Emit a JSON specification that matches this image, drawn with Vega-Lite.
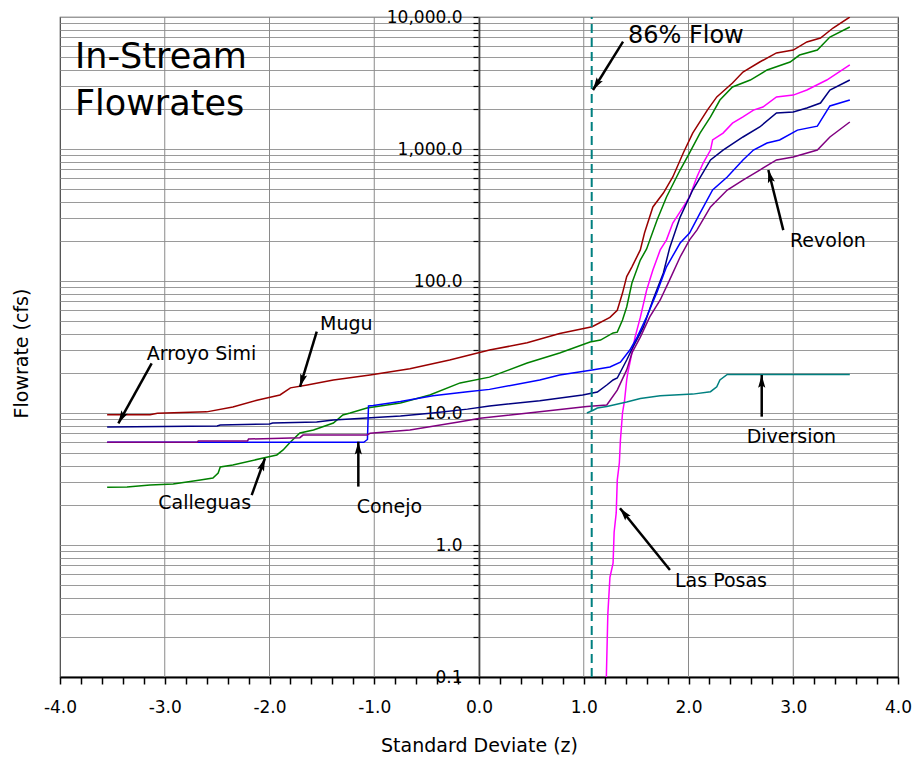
{
  "$schema": "https://vega.github.io/schema/vega-lite/v6.json",
  "width": 838,
  "height": 660,
  "autosize": {"type": "none"},
  "padding": {"left": 60, "top": 17, "right": 19, "bottom": 80},
  "background": "white",
  "config": {"view": {"stroke": "#444444", "strokeWidth": 1.2}, "font": "DejaVu Sans"},
  "datasets": {
    "curves": [
      {"s": "Mugu", "z": -3.55, "q": 9.7}, {"s": "Mugu", "z": -3.14, "q": 9.7}, {"s": "Mugu", "z": -3.07, "q": 9.95}, {"s": "Mugu", "z": -2.6, "q": 10.2}, {"s": "Mugu", "z": -2.35, "q": 11.1}, {"s": "Mugu", "z": -2.12, "q": 12.5}, {"s": "Mugu", "z": -1.9, "q": 13.7}, {"s": "Mugu", "z": -1.8, "q": 15.5}, {"s": "Mugu", "z": -1.64, "q": 16.3}, {"s": "Mugu", "z": -1.39, "q": 17.8}, {"s": "Mugu", "z": -1.04, "q": 19.4}, {"s": "Mugu", "z": -0.66, "q": 21.6}, {"s": "Mugu", "z": -0.28, "q": 25.2}, {"s": "Mugu", "z": 0.1, "q": 30}, {"s": "Mugu", "z": 0.46, "q": 34}, {"s": "Mugu", "z": 0.77, "q": 40}, {"s": "Mugu", "z": 1.08, "q": 45}, {"s": "Mugu", "z": 1.25, "q": 53}, {"s": "Mugu", "z": 1.32, "q": 60}, {"s": "Mugu", "z": 1.37, "q": 81}, {"s": "Mugu", "z": 1.41, "q": 108}, {"s": "Mugu", "z": 1.46, "q": 128}, {"s": "Mugu", "z": 1.54, "q": 172}, {"s": "Mugu", "z": 1.58, "q": 231}, {"s": "Mugu", "z": 1.66, "q": 364}, {"s": "Mugu", "z": 1.76, "q": 464}, {"s": "Mugu", "z": 1.85, "q": 614}, {"s": "Mugu", "z": 1.95, "q": 933}, {"s": "Mugu", "z": 2.04, "q": 1320}, {"s": "Mugu", "z": 2.18, "q": 1970}, {"s": "Mugu", "z": 2.27, "q": 2480}, {"s": "Mugu", "z": 2.42, "q": 3160}, {"s": "Mugu", "z": 2.52, "q": 3830}, {"s": "Mugu", "z": 2.68, "q": 4560}, {"s": "Mugu", "z": 2.84, "q": 5340}, {"s": "Mugu", "z": 3.0, "q": 5620}, {"s": "Mugu", "z": 3.13, "q": 6470}, {"s": "Mugu", "z": 3.26, "q": 6930}, {"s": "Mugu", "z": 3.38, "q": 8250}, {"s": "Mugu", "z": 3.54, "q": 10000},
      {"s": "Calleguas", "z": -3.55, "q": 2.74}, {"s": "Calleguas", "z": -3.36, "q": 2.75}, {"s": "Calleguas", "z": -3.14, "q": 2.85}, {"s": "Calleguas", "z": -2.92, "q": 2.9}, {"s": "Calleguas", "z": -2.66, "q": 3.11}, {"s": "Calleguas", "z": -2.54, "q": 3.22}, {"s": "Calleguas", "z": -2.49, "q": 3.51}, {"s": "Calleguas", "z": -2.47, "q": 3.9}, {"s": "Calleguas", "z": -2.35, "q": 4.04}, {"s": "Calleguas", "z": -2.06, "q": 4.56}, {"s": "Calleguas", "z": -1.93, "q": 4.81}, {"s": "Calleguas", "z": -1.87, "q": 5.25}, {"s": "Calleguas", "z": -1.8, "q": 6.03}, {"s": "Calleguas", "z": -1.71, "q": 7.05}, {"s": "Calleguas", "z": -1.58, "q": 7.43}, {"s": "Calleguas", "z": -1.39, "q": 8.4}, {"s": "Calleguas", "z": -1.3, "q": 9.66}, {"s": "Calleguas", "z": -1.23, "q": 10}, {"s": "Calleguas", "z": -1.07, "q": 10.9}, {"s": "Calleguas", "z": -0.75, "q": 11.9}, {"s": "Calleguas", "z": -0.47, "q": 13.7}, {"s": "Calleguas", "z": -0.18, "q": 16.9}, {"s": "Calleguas", "z": 0.1, "q": 18.7}, {"s": "Calleguas", "z": 0.46, "q": 23.9}, {"s": "Calleguas", "z": 0.77, "q": 28.5}, {"s": "Calleguas", "z": 1.06, "q": 34.5}, {"s": "Calleguas", "z": 1.16, "q": 35.7}, {"s": "Calleguas", "z": 1.28, "q": 40.4}, {"s": "Calleguas", "z": 1.32, "q": 41}, {"s": "Calleguas", "z": 1.37, "q": 50.7}, {"s": "Calleguas", "z": 1.41, "q": 63.5}, {"s": "Calleguas", "z": 1.46, "q": 96.6}, {"s": "Calleguas", "z": 1.54, "q": 144}, {"s": "Calleguas", "z": 1.6, "q": 175}, {"s": "Calleguas", "z": 1.7, "q": 290}, {"s": "Calleguas", "z": 1.79, "q": 433}, {"s": "Calleguas", "z": 1.92, "q": 693}, {"s": "Calleguas", "z": 2.01, "q": 933}, {"s": "Calleguas", "z": 2.11, "q": 1320}, {"s": "Calleguas", "z": 2.21, "q": 1750}, {"s": "Calleguas", "z": 2.3, "q": 2350}, {"s": "Calleguas", "z": 2.42, "q": 2950}, {"s": "Calleguas", "z": 2.59, "q": 3330}, {"s": "Calleguas", "z": 2.75, "q": 3970}, {"s": "Calleguas", "z": 2.97, "q": 4560}, {"s": "Calleguas", "z": 3.06, "q": 5150}, {"s": "Calleguas", "z": 3.23, "q": 5620}, {"s": "Calleguas", "z": 3.35, "q": 7050}, {"s": "Calleguas", "z": 3.54, "q": 8400},
      {"s": "Las Posas", "z": 1.215, "q": 0.095}, {"s": "Las Posas", "z": 1.23, "q": 0.3}, {"s": "Las Posas", "z": 1.25, "q": 0.57}, {"s": "Las Posas", "z": 1.28, "q": 0.73}, {"s": "Las Posas", "z": 1.29, "q": 1.25}, {"s": "Las Posas", "z": 1.31, "q": 1.75}, {"s": "Las Posas", "z": 1.32, "q": 3.1}, {"s": "Las Posas", "z": 1.34, "q": 4.2}, {"s": "Las Posas", "z": 1.35, "q": 6.2}, {"s": "Las Posas", "z": 1.37, "q": 10}, {"s": "Las Posas", "z": 1.39, "q": 12.5}, {"s": "Las Posas", "z": 1.41, "q": 17.8}, {"s": "Las Posas", "z": 1.42, "q": 20}, {"s": "Las Posas", "z": 1.46, "q": 28.5}, {"s": "Las Posas", "z": 1.49, "q": 37.6}, {"s": "Las Posas", "z": 1.54, "q": 53}, {"s": "Las Posas", "z": 1.6, "q": 85}, {"s": "Las Posas", "z": 1.66, "q": 121}, {"s": "Las Posas", "z": 1.73, "q": 172}, {"s": "Las Posas", "z": 1.79, "q": 205}, {"s": "Las Posas", "z": 1.85, "q": 275}, {"s": "Las Posas", "z": 1.95, "q": 364}, {"s": "Las Posas", "z": 2.01, "q": 433}, {"s": "Las Posas", "z": 2.08, "q": 614}, {"s": "Las Posas", "z": 2.14, "q": 783}, {"s": "Las Posas", "z": 2.21, "q": 982}, {"s": "Las Posas", "z": 2.23, "q": 1170}, {"s": "Las Posas", "z": 2.33, "q": 1320}, {"s": "Las Posas", "z": 2.42, "q": 1570}, {"s": "Las Posas", "z": 2.52, "q": 1750}, {"s": "Las Posas", "z": 2.62, "q": 1970}, {"s": "Las Posas", "z": 2.71, "q": 2080}, {"s": "Las Posas", "z": 2.84, "q": 2480}, {"s": "Las Posas", "z": 3.0, "q": 2560}, {"s": "Las Posas", "z": 3.13, "q": 2800}, {"s": "Las Posas", "z": 3.32, "q": 3330}, {"s": "Las Posas", "z": 3.54, "q": 4330},
      {"s": "Arroyo Simi", "z": -3.55, "q": 7.83}, {"s": "Arroyo Simi", "z": -2.5, "q": 7.97}, {"s": "Arroyo Simi", "z": -2.47, "q": 8.11}, {"s": "Arroyo Simi", "z": -2.0, "q": 8.26}, {"s": "Arroyo Simi", "z": -1.97, "q": 8.4}, {"s": "Arroyo Simi", "z": -1.55, "q": 8.55}, {"s": "Arroyo Simi", "z": -1.39, "q": 8.85}, {"s": "Arroyo Simi", "z": -1.07, "q": 9.17}, {"s": "Arroyo Simi", "z": -0.75, "q": 9.49}, {"s": "Arroyo Simi", "z": -0.44, "q": 10}, {"s": "Arroyo Simi", "z": -0.11, "q": 10.7}, {"s": "Arroyo Simi", "z": 0.1, "q": 11.3}, {"s": "Arroyo Simi", "z": 0.58, "q": 12.4}, {"s": "Arroyo Simi", "z": 0.99, "q": 13.7}, {"s": "Arroyo Simi", "z": 1.13, "q": 14.4}, {"s": "Arroyo Simi", "z": 1.22, "q": 16.3}, {"s": "Arroyo Simi", "z": 1.28, "q": 17.8}, {"s": "Arroyo Simi", "z": 1.32, "q": 18.4}, {"s": "Arroyo Simi", "z": 1.41, "q": 25.2}, {"s": "Arroyo Simi", "z": 1.47, "q": 31.6}, {"s": "Arroyo Simi", "z": 1.57, "q": 44.9}, {"s": "Arroyo Simi", "z": 1.66, "q": 71.8}, {"s": "Arroyo Simi", "z": 1.76, "q": 115}, {"s": "Arroyo Simi", "z": 1.82, "q": 178}, {"s": "Arroyo Simi", "z": 1.92, "q": 305}, {"s": "Arroyo Simi", "z": 2.04, "q": 489}, {"s": "Arroyo Simi", "z": 2.21, "q": 826}, {"s": "Arroyo Simi", "z": 2.33, "q": 982}, {"s": "Arroyo Simi", "z": 2.52, "q": 1233}, {"s": "Arroyo Simi", "z": 2.68, "q": 1468}, {"s": "Arroyo Simi", "z": 2.84, "q": 1874}, {"s": "Arroyo Simi", "z": 3.0, "q": 1906}, {"s": "Arroyo Simi", "z": 3.13, "q": 2045}, {"s": "Arroyo Simi", "z": 3.26, "q": 2230}, {"s": "Arroyo Simi", "z": 3.35, "q": 2800}, {"s": "Arroyo Simi", "z": 3.54, "q": 3333},
      {"s": "Conejo", "z": -3.55, "q": 6.0}, {"s": "Conejo", "z": -1.1, "q": 6.0}, {"s": "Conejo", "z": -1.065, "q": 6.3}, {"s": "Conejo", "z": -1.055, "q": 11.3}, {"s": "Conejo", "z": -1.01, "q": 11.4}, {"s": "Conejo", "z": -0.75, "q": 12.2}, {"s": "Conejo", "z": -0.44, "q": 13.5}, {"s": "Conejo", "z": -0.11, "q": 14.5}, {"s": "Conejo", "z": 0.1, "q": 15.1}, {"s": "Conejo", "z": 0.58, "q": 17.8}, {"s": "Conejo", "z": 0.77, "q": 19.4}, {"s": "Conejo", "z": 1.08, "q": 21.2}, {"s": "Conejo", "z": 1.25, "q": 22.3}, {"s": "Conejo", "z": 1.35, "q": 24.3}, {"s": "Conejo", "z": 1.44, "q": 30}, {"s": "Conejo", "z": 1.51, "q": 37.6}, {"s": "Conejo", "z": 1.6, "q": 53.4}, {"s": "Conejo", "z": 1.7, "q": 82.6}, {"s": "Conejo", "z": 1.79, "q": 128}, {"s": "Conejo", "z": 1.92, "q": 194}, {"s": "Conejo", "z": 2.01, "q": 231}, {"s": "Conejo", "z": 2.11, "q": 327}, {"s": "Conejo", "z": 2.23, "q": 489}, {"s": "Conejo", "z": 2.37, "q": 614}, {"s": "Conejo", "z": 2.52, "q": 826}, {"s": "Conejo", "z": 2.62, "q": 982}, {"s": "Conejo", "z": 2.75, "q": 1110}, {"s": "Conejo", "z": 2.87, "q": 1170}, {"s": "Conejo", "z": 3.04, "q": 1390}, {"s": "Conejo", "z": 3.23, "q": 1490}, {"s": "Conejo", "z": 3.35, "q": 2120}, {"s": "Conejo", "z": 3.54, "q": 2350},
      {"s": "Revolon", "z": -3.55, "q": 6.0}, {"s": "Revolon", "z": -2.69, "q": 6.0}, {"s": "Revolon", "z": -2.68, "q": 6.14}, {"s": "Revolon", "z": -2.21, "q": 6.14}, {"s": "Revolon", "z": -2.2, "q": 6.35}, {"s": "Revolon", "z": -1.71, "q": 6.5}, {"s": "Revolon", "z": -1.68, "q": 6.8}, {"s": "Revolon", "z": -1.07, "q": 6.8}, {"s": "Revolon", "z": -1.04, "q": 7.02}, {"s": "Revolon", "z": -0.66, "q": 7.43}, {"s": "Revolon", "z": -0.18, "q": 8.59}, {"s": "Revolon", "z": 0.01, "q": 9.12}, {"s": "Revolon", "z": 0.58, "q": 10.2}, {"s": "Revolon", "z": 1.03, "q": 11.2}, {"s": "Revolon", "z": 1.22, "q": 11.5}, {"s": "Revolon", "z": 1.32, "q": 14.9}, {"s": "Revolon", "z": 1.41, "q": 21.2}, {"s": "Revolon", "z": 1.46, "q": 28.5}, {"s": "Revolon", "z": 1.54, "q": 37.6}, {"s": "Revolon", "z": 1.63, "q": 53.4}, {"s": "Revolon", "z": 1.73, "q": 71.8}, {"s": "Revolon", "z": 1.82, "q": 102}, {"s": "Revolon", "z": 1.92, "q": 152}, {"s": "Revolon", "z": 2.01, "q": 205}, {"s": "Revolon", "z": 2.08, "q": 243}, {"s": "Revolon", "z": 2.21, "q": 364}, {"s": "Revolon", "z": 2.37, "q": 489}, {"s": "Revolon", "z": 2.52, "q": 582}, {"s": "Revolon", "z": 2.68, "q": 693}, {"s": "Revolon", "z": 2.84, "q": 826}, {"s": "Revolon", "z": 3.0, "q": 869}, {"s": "Revolon", "z": 3.23, "q": 982}, {"s": "Revolon", "z": 3.35, "q": 1233}, {"s": "Revolon", "z": 3.54, "q": 1602},
      {"s": "Diversion", "z": 1.03, "q": 10.0}, {"s": "Diversion", "z": 1.09, "q": 10.5}, {"s": "Diversion", "z": 1.13, "q": 10.9}, {"s": "Diversion", "z": 1.22, "q": 11.2}, {"s": "Diversion", "z": 1.41, "q": 12.1}, {"s": "Diversion", "z": 1.54, "q": 12.9}, {"s": "Diversion", "z": 1.73, "q": 13.5}, {"s": "Diversion", "z": 2.04, "q": 13.9}, {"s": "Diversion", "z": 2.21, "q": 14.5}, {"s": "Diversion", "z": 2.27, "q": 15.8}, {"s": "Diversion", "z": 2.3, "q": 17.8}, {"s": "Diversion", "z": 2.37, "q": 19.6}, {"s": "Diversion", "z": 3.54, "q": 19.6}
    ],
    "zgrid": [
      {"z": -3, "q": 0.1}, {"z": -3, "q": 10000}, {"z": -2, "q": 0.1}, {"z": -2, "q": 10000}, {"z": -1, "q": 0.1}, {"z": -1, "q": 10000},
      {"z": 0, "q": 0.1}, {"z": 0, "q": 10000}, {"z": 1, "q": 0.1}, {"z": 1, "q": 10000}, {"z": 2, "q": 0.1}, {"z": 2, "q": 10000}, {"z": 3, "q": 0.1}, {"z": 3, "q": 10000}
    ],
    "flowline": [{"z": 1.076, "q": 0.1}, {"z": 1.076, "q": 10000}],
    "arrows": [
      {"name": "86% Flow", "z": 1.088, "q": 2800, "zt": 1.375, "qt": 6500, "heading": 212},
      {"name": "Mugu", "z": -1.709, "q": 15.8, "zt": -1.549, "qt": 41.3, "heading": 197},
      {"name": "Arroyo Simi", "z": -3.443, "q": 8.36, "zt": -3.125, "qt": 23.8, "heading": 209},
      {"name": "Calleguas", "z": -2.043, "q": 4.54, "zt": -2.17, "qt": 2.39, "heading": 20},
      {"name": "Conejo", "z": -1.152, "q": 6.06, "zt": -1.152, "qt": 2.77, "heading": 0},
      {"name": "Diversion", "z": 2.699, "q": 19.4, "zt": 2.699, "qt": 9.38, "heading": 0},
      {"name": "Las Posas", "z": 1.346, "q": 1.9, "zt": 1.823, "qt": 0.647, "heading": 321},
      {"name": "Revolon", "z": 2.762, "q": 693, "zt": 2.905, "qt": 243, "heading": 346}
    ],
    "labels": [
      {"label": "Mugu", "z": -1.518, "q": 42.6},
      {"label": "Arroyo Simi", "z": -3.172, "q": 25.2},
      {"label": "Calleguas", "z": -3.062, "q": 1.86},
      {"label": "Conejo", "z": -1.168, "q": 1.74},
      {"label": "Diversion", "z": 2.555, "q": 5.96},
      {"label": "Las Posas", "z": 1.871, "q": 0.483},
      {"label": "Revolon", "z": 2.969, "q": 182}
    ],
    "flowlabel": [{"label": "86% Flow", "z": 1.422, "q": 6320}],
    "heading": [
      {"label": "In-Stream", "z": -3.857, "q": 4085},
      {"label": "Flowrates", "z": -3.857, "q": 1811}
    ]
  },
  "encoding": {
    "x": {
      "field": "z", "type": "quantitative",
      "scale": {"domain": [-4, 4], "nice": false, "zero": false},
      "axis": {
        "values": [-4, -3.8, -3.6, -3.4, -3.2, -3, -2.8, -2.6, -2.4, -2.2, -2, -1.8, -1.6, -1.4, -1.2, -1, -0.8, -0.6, -0.4, -0.2, 0, 0.2, 0.4, 0.6, 0.8, 1, 1.2, 1.4, 1.6, 1.8, 2, 2.2, 2.4, 2.6, 2.8, 3, 3.2, 3.4, 3.6, 3.8, 4],
        "tickCount": 200,
        "labelExpr": "abs(datum.value - round(datum.value)) < 0.001 ? replace(format(datum.value, '.1f'), '\u2212', '-') : ''",
        "grid": false,
        "ticks": true,
        "tickSize": 7,
        "tickColor": "black",
        "tickWidth": 1.5,
        "labelFont": "DejaVu Sans",
        "labelFontSize": 17,
        "labelColor": "black",
        "labelPadding": 15,
        "labelFlush": false,
        "labelOverlap": false,
        "domainColor": "black",
        "domainWidth": 2,
        "title": "Standard Deviate (z)",
        "titleFont": "DejaVu Sans",
        "titleFontSize": 19,
        "titleFontWeight": "normal",
        "titleColor": "black",
        "titleY": 68,
        "titleBaseline": "middle"
      }
    },
    "y": {
      "field": "q", "type": "quantitative",
      "scale": {"type": "log", "domain": [0.1, 10000], "nice": false},
      "axis": {
        "values": [0.1, 0.2, 0.3, 0.4, 0.5, 0.6, 0.7, 0.8, 0.9, 1, 2, 3, 4, 5, 6, 7, 8, 9, 10, 20, 30, 40, 50, 60, 70, 80, 90, 100, 200, 300, 400, 500, 600, 700, 800, 900, 1000, 2000, 3000, 4000, 5000, 6000, 7000, 8000, 9000, 10000],
        "tickCount": 200,
        "offset": -419,
        "labelExpr": "indexof([0.1, 1, 10, 100, 1000, 10000], datum.value) >= 0 ? format(datum.value, ',.1f') : ''",
        "ticks": true,
        "tickSize": 6,
        "tickColor": "black",
        "tickWidth": 1.2,
        "domainColor": "black",
        "domainWidth": 1.5,
        "grid": true,
        "gridColor": "#9a9a9a",
        "gridWidth": 1,
        "labelFont": "DejaVu Sans",
        "labelFontSize": 17,
        "labelColor": "black",
        "labelPadding": 11,
        "labelOverlap": false,
        "labelFlush": false,
        "title": "Flowrate (cfs)",
        "titleFont": "DejaVu Sans",
        "titleFontSize": 19,
        "titleFontWeight": "normal",
        "titleColor": "black",
        "titleX": -458,
        "titleY": 336,
        "titleAngle": 270,
        "titleAlign": "center",
        "titleBaseline": "middle"
      }
    }
  },
  "layer": [
    {
      "data": {"name": "zgrid"},
      "mark": {"type": "line", "color": "#8a8a8a", "strokeWidth": 1},
      "encoding": {"detail": {"field": "z", "type": "nominal"}, "order": {"field": "q", "type": "quantitative"}}
    },
    {
      "data": {"name": "curves"},
      "mark": {"type": "line", "strokeWidth": 1.5, "clip": true},
      "encoding": {
        "color": {
          "field": "s", "type": "nominal",
          "scale": {
            "domain": ["Mugu", "Calleguas", "Las Posas", "Arroyo Simi", "Conejo", "Revolon", "Diversion"],
            "range": ["#990000", "#008000", "#ff00ff", "#000080", "#0000ff", "#800080", "#008080"]
          },
          "legend": null
        }
      }
    },
    {
      "data": {"name": "flowline"},
      "mark": {"type": "line", "color": "#008080", "strokeWidth": 2, "strokeDash": [9, 5]},
      "encoding": {"order": {"field": "q", "type": "quantitative"}}
    },
    {
      "data": {"name": "arrows"},
      "mark": {"type": "rule", "color": "black", "strokeWidth": 2.5},
      "encoding": {
        "x2": {"field": "zt"},
        "y2": {"field": "qt"}
      }
    },
    {
      "data": {"name": "arrows"},
      "mark": {"type": "point", "shape": "M0,0L0.9,3.2L0,2.6L-0.9,3.2Z", "filled": true, "color": "black", "opacity": 1, "size": 64},
      "encoding": {
        "angle": {"field": "heading", "type": "quantitative", "scale": null}
      }
    },
    {
      "data": {"name": "labels"},
      "mark": {"type": "text", "font": "DejaVu Sans", "fontSize": 19, "color": "black", "align": "left", "baseline": "alphabetic"},
      "encoding": {"text": {"field": "label"}}
    },
    {
      "data": {"name": "flowlabel"},
      "mark": {"type": "text", "font": "DejaVu Sans", "fontSize": 24, "color": "black", "align": "left", "baseline": "alphabetic"},
      "encoding": {"text": {"field": "label"}}
    },
    {
      "data": {"name": "heading"},
      "mark": {"type": "text", "font": "DejaVu Sans", "fontSize": 35, "color": "black", "align": "left", "baseline": "alphabetic"},
      "encoding": {"text": {"field": "label"}}
    }
  ]
}
